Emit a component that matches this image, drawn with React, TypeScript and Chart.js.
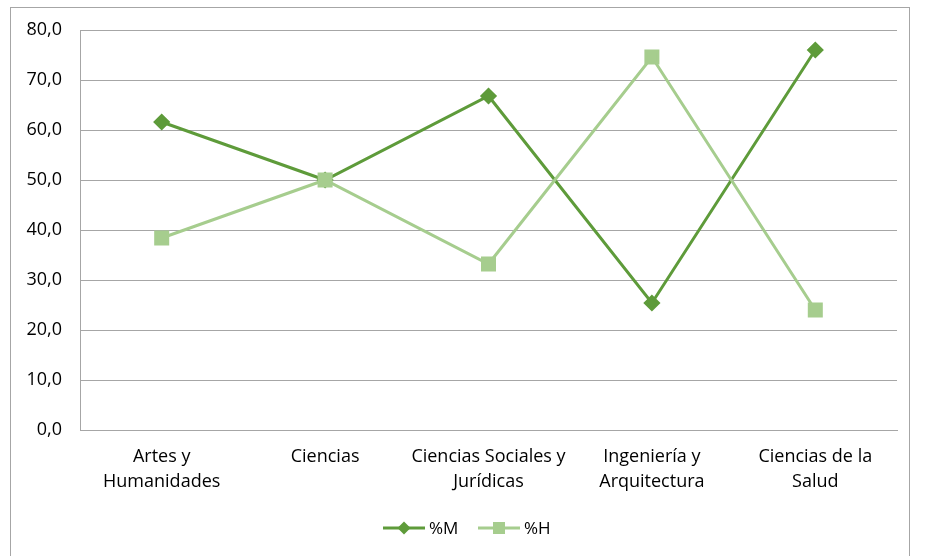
import React, { useEffect, useRef } from "react";
import { Chart, registerables } from "chart.js";

Chart.register(...registerables);

const categories: string[][] = [
  ["Artes y", "Humanidades"],
  ["Ciencias"],
  ["Ciencias Sociales y", "Jurídicas"],
  ["Ingeniería y", "Arquitectura"],
  ["Ciencias de la", "Salud"],
];
const seriesM = [61.6, 50.0, 66.8, 25.4, 76.0];
const seriesH = [38.4, 50.0, 33.2, 74.6, 24.0];
const yTicks = [0, 10, 20, 30, 40, 50, 60, 70, 80];

const FONT = "'Open Sans', 'Liberation Sans', sans-serif";
const colorM = "#5E9B3A";
const colorH = "#A6CD8E";

const legendPlugin = {
  id: "customLegend",
  afterDraw(chart: any) {
    const ctx = chart.ctx;
    const y = 528;
    let x = 383;
    ctx.save();
    chart.data.datasets.forEach((ds: any) => {
      ctx.strokeStyle = ds.borderColor;
      ctx.lineWidth = 3;
      ctx.beginPath();
      ctx.moveTo(x, y);
      ctx.lineTo(x + 42, y);
      ctx.stroke();
      ctx.fillStyle = ds.pointBackgroundColor;
      const cx = x + 21;
      if (ds.pointStyle === "rectRot") {
        ctx.beginPath();
        ctx.moveTo(cx, y - 6.5);
        ctx.lineTo(cx + 6.5, y);
        ctx.lineTo(cx, y + 6.5);
        ctx.lineTo(cx - 6.5, y);
        ctx.closePath();
        ctx.fill();
      } else {
        ctx.fillRect(cx - 6, y - 6, 12, 12);
      }
      ctx.fillStyle = "#000";
      ctx.font = `17px ${FONT}`;
      ctx.textBaseline = "middle";
      ctx.textAlign = "left";
      ctx.fillText(ds.label, x + 46, y + 1);
      x += 95;
    });
    ctx.restore();
  },
};

export default function App() {
  const ref = useRef<HTMLCanvasElement>(null);
  useEffect(() => {
    if (!ref.current) return;
    const chart = new Chart(ref.current, {
      type: "line",
      data: {
        labels: categories,
        datasets: [
          {
            label: "%M",
            data: seriesM,
            borderColor: colorM,
            backgroundColor: colorM,
            pointBackgroundColor: colorM,
            pointBorderColor: colorM,
            pointStyle: "rectRot",
            pointRadius: 6.5,
            borderWidth: 3,
            order: 1,
          },
          {
            label: "%H",
            data: seriesH,
            borderColor: colorH,
            backgroundColor: colorH,
            pointBackgroundColor: colorH,
            pointBorderColor: colorH,
            pointStyle: "rect",
            pointRadius: 8.5,
            borderWidth: 3,
            order: 0,
          },
        ],
      },
      plugins: [legendPlugin],
      options: {
        animation: false,
        responsive: false,
        layout: { padding: { left: 0, right: 28, top: 30, bottom: 0 } },
        plugins: { legend: { display: false }, tooltip: { enabled: false } },
        scales: {
          x: {
            offset: true,
            grid: { display: false, drawTicks: false },
            border: { color: "#A6A6A6", width: 1 },
            ticks: {
              color: "#000",
              font: { family: FONT, size: 18, lineHeight: 1.4 },
              padding: 14,
              maxRotation: 0,
              autoSkip: false,
            },
            afterFit(scale: any) {
              scale.height = 126;
            },
          },
          y: {
            min: 0,
            max: 80,
            afterBuildTicks(scale: any) {
              scale.ticks = yTicks.map((v) => ({ value: v }));
            },
            grid: { color: "#A6A6A6", drawTicks: false, lineWidth: 1 },
            border: { color: "#A6A6A6", width: 1 },
            ticks: {
              color: "#000",
              font: { family: FONT, size: 18 },
              padding: 18,
              callback: (v: any) => Number(v).toFixed(1).replace(".", ","),
            },
            afterFit(scale: any) {
              scale.width = 80;
            },
          },
        },
      },
    });
    return () => chart.destroy();
  }, []);
  return (
    <div style={{ position: "fixed", left: 0, top: 0, width: 925, height: 556, background: "#fff" }}>
      <div
        style={{
          position: "absolute",
          left: 10,
          top: 7,
          width: 900,
          height: 580,
          border: "1px solid #A6A6A6",
          boxSizing: "border-box",
        }}
      />
      <canvas ref={ref} width={925} height={556} style={{ position: "absolute", left: 0, top: 0 }} />
    </div>
  );
}
